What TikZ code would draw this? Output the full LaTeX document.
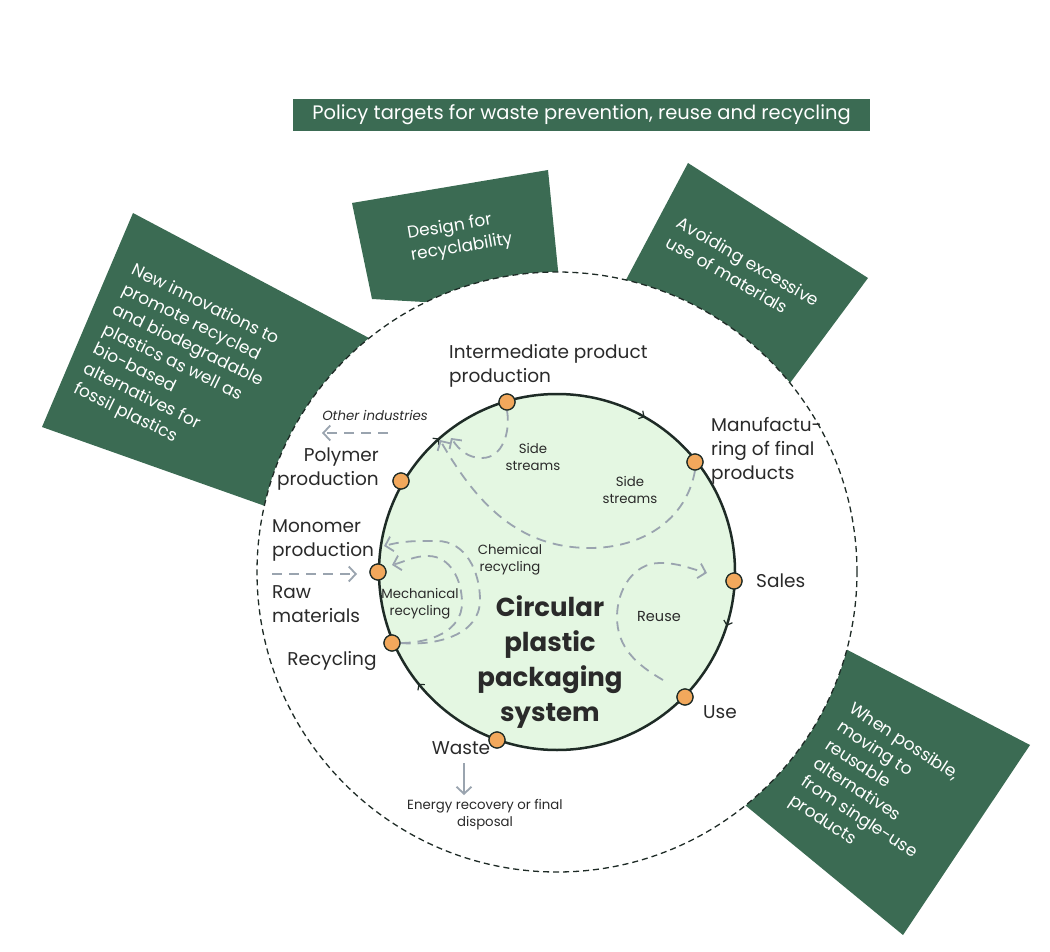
\documentclass[tikz,border=0pt]{standalone}
\usepackage{fontspec}
\setmainfont{Poppins}
\usetikzlibrary{arrows.meta,decorations.markings}

\definecolor{boxgreen}{HTML}{3B6B53}
\definecolor{discfill}{HTML}{E4F7E2}
\definecolor{ringline}{HTML}{1E2B26}
\definecolor{dotorange}{HTML}{F2A85C}
\definecolor{flowgrey}{HTML}{9AA4AF}
\definecolor{labeltext}{HTML}{2A2A2A}

\tikzset{
  stage/.style={circle, fill=dotorange, draw=ringline, line width=1.2pt, minimum size=16pt, inner sep=0pt},
  lbl/.style={text=labeltext, font=\fontsize{18.5}{24}\selectfont, inner sep=0pt},
  small/.style={text=labeltext, font=\fontsize{13.3}{17}\selectfont, align=center, inner sep=0pt},
  boxtext/.style={text=white, font=\fontsize{17}{22}\selectfont, align=left, inner sep=0pt},
  flow/.style={flowgrey, line width=1.8pt, dash pattern=on 10pt off 7pt, -{Straight Barb[length=7pt,width=15pt]}},
}

\begin{document}
\begin{tikzpicture}[x=1pt, y=1pt]
\useasboundingbox (0,0) rectangle (1050,-952);

% Policy banner
\fill[boxgreen] (293,-99) rectangle (870,-131);
\node[boxtext, font=\fontsize{19.5}{22}\selectfont] (policy) at (581.5,-115) {Policy targets for waste prevention, reuse and recycling};

% Measure boxes (cut by the outer ring)
\fill[boxgreen] (133,-213) -- (420,-365) -- (330,-529) -- (42,-427) -- cycle;
\fill[boxgreen] (352,-203) -- (548,-170) -- (562,-310) -- (372,-299) -- cycle;
\fill[boxgreen] (688,-163) -- (868,-278) -- (770,-410) -- (610,-310) -- cycle;
\fill[boxgreen] (788,-619) -- (1030,-745) -- (903,-935) -- (700,-768) -- cycle;

\node[boxtext, anchor=north west, rotate=-26] (innov) at (136,-262)
  {New innovations to\\promote recycled\\and biodegradable\\plastics as well as\\bio-based\\alternatives for\\fossil plastics};
\node[boxtext, rotate=9.6] (design) at (460,-237) {Design for\\recyclability};
\node[boxtext, rotate=-30] (avoid) at (743,-271) {Avoiding excessive\\use of materials};
\node[boxtext, anchor=north west, rotate=-33] (reusebox) at (855,-700)
  {When possible,\\moving to\\reusable\\alternatives\\from single-use\\products};

% Outer ring
\fill[white] (557,-572) circle (300);
\draw[ringline, line width=1.3pt, dash pattern=on 6pt off 4pt] (557,-572) circle (300);

% Inner disc
\draw[ringline, line width=2.5pt, fill=discfill] (557,-572) circle (178);
\path[decoration={markings,
    mark=at position 0.168 with {\arrowreversed[ringline, line width=1.2pt]{Straight Barb[length=4pt,width=9pt]}},
    mark=at position 0.365 with {\arrowreversed[ringline, line width=1.2pt]{Straight Barb[length=4pt,width=9pt]}},
    mark=at position 0.608 with {\arrowreversed[ringline, line width=1.2pt]{Straight Barb[length=4pt,width=9pt]}},
    mark=at position 0.951 with {\arrowreversed[ringline, line width=1.2pt]{Straight Barb[length=4pt,width=9pt]}}},
  postaction=decorate] (557,-572) circle (178);

% Stages
\node[stage] (interm) at (507,-402) {};
\node[stage] (polymer) at (401,-481) {};
\node[stage] (monomer) at (378,-572) {};
\node[stage] (recyc) at (392,-643) {};
\node[stage] (waste) at (497,-740) {};
\node[stage] (use) at (685,-697) {};
\node[stage] (sales) at (734,-581) {};
\node[stage] (manuf) at (695,-462) {};

% Free ends of flows
\coordinate (othA) at (388,-433);
\coordinate (othB) at (322,-433);
\coordinate (rawA) at (272,-574);
\coordinate (rawB) at (357,-574);
\coordinate (wasteA) at (464,-763);
\coordinate (wasteB) at (464,-795);
\coordinate (ssA) at (451,-438);
\coordinate (ssB) at (440,-440);
\coordinate (chemB) at (384,-546);
\coordinate (mechB) at (392,-565);
\coordinate (reuseA) at (663,-680);
\coordinate (reuseB) at (707,-573);

% Flows
\draw[flow] (othA) -- (othB);
\draw[flow] (rawA) -- (rawB);
\draw[flowgrey, line width=1.8pt, -{Straight Barb[length=7pt,width=15pt]}] (wasteA) -- (wasteB);
\draw[flow] (interm.south) to[out=-80,in=0] (482,-458) to[out=180,in=-55] (ssA);
\draw[flow] (manuf.south) to[out=-100,in=0] (590,-548) to[out=180,in=-60] (ssB);
\draw[flow] (recyc.east) to[out=-5,in=-90] (480,-600) to[out=90,in=0] (437,-541) to[out=180,in=15] (chemB);
\draw[flow] (recyc.east) to[out=0,in=-90] (462,-603) to[out=90,in=0] (428,-556) to[out=180,in=15] (mechB);
\draw[flow] (reuseA) to[out=150,in=-90] (617,-617) to[out=90,in=180] (660,-563) to[out=0,in=165] (reuseB);

% Redraw stages on top
\foreach \s in {interm,polymer,monomer,recyc,waste,use,sales,manuf}
  \node[stage] at (\s) {};

% Labels
\node[lbl, anchor=west, align=left] (intermlbl) at (449,-366) {Intermediate product\\production};
\node[lbl, anchor=west, align=left] (manuflbl) at (711,-451) {Manufactu-\\ring of final\\products};
\node[lbl, anchor=west] (saleslbl) at (756,-581) {Sales};
\node[lbl, anchor=west] (uselbl) at (703,-712) {Use};
\node[lbl] (wastelbl) at (461,-748) {Waste};
\node[lbl] (recyclbl) at (332,-661) {Recycling};
\node[lbl, anchor=west, align=left] (rawlbl) at (272,-604) {Raw\\materials};
\node[lbl, anchor=west, align=left] (monolbl) at (272,-541) {Monomer\\production};
\node[lbl, anchor=east, align=right] (polylbl) at (379,-469) {Polymer\\production};
\node[small, font=\itshape\fontsize{13.3}{17}\selectfont] (othlbl) at (375,-415) {Other industries};
\node[small] (energylbl) at (485,-815) {Energy recovery or final\\disposal};
\node[small] (ss1lbl) at (533,-457) {Side\\streams};
\node[small] (ss2lbl) at (630,-490) {Side\\streams};
\node[small] (chemlbl) at (510,-560) {Chemical\\recycling};
\node[small] (mechlbl) at (420,-604) {Mechanical\\recycling};
\node[small, font=\fontsize{14.5}{17}\selectfont] (reuselbl) at (659,-617) {Reuse};
\node[text=labeltext, font=\bfseries\fontsize{26}{35}\selectfont, align=center, inner sep=0pt] (title) at (550,-662)
  {Circular\\plastic\\packaging\\system};

\end{tikzpicture}
\end{document}
